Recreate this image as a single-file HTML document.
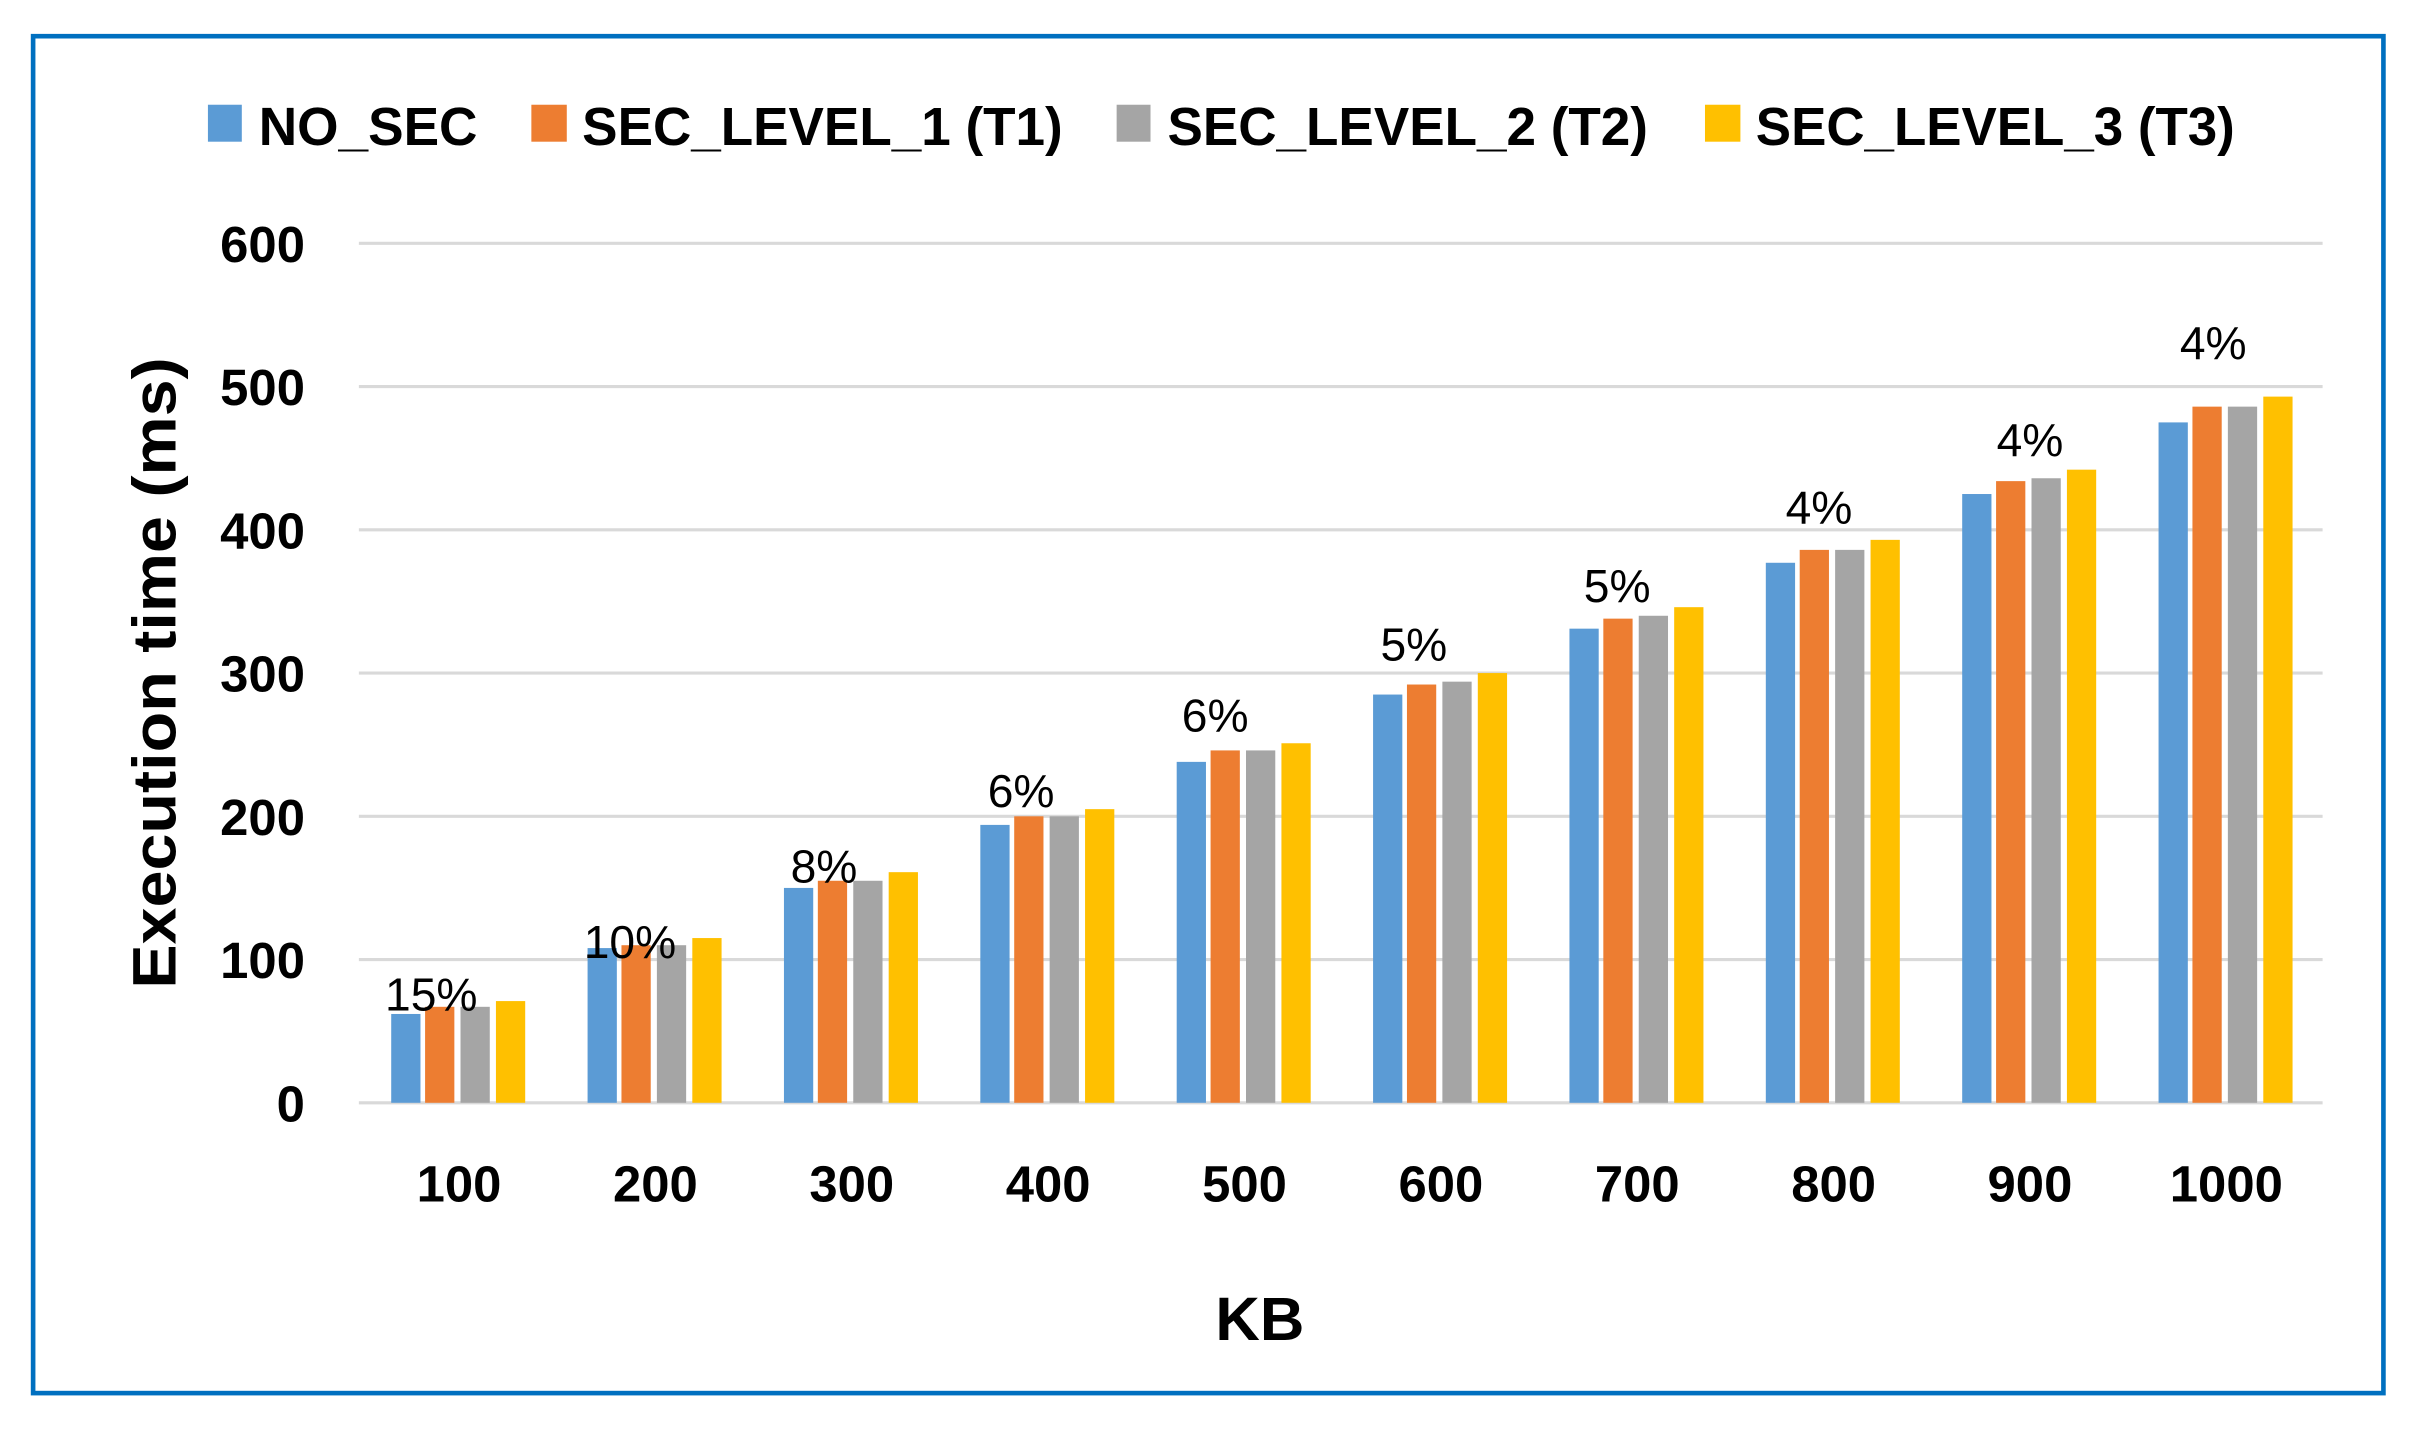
<!DOCTYPE html>
<html><head><meta charset="utf-8"><style>
html,body{margin:0;padding:0;background:#fff;}
svg{display:block;}
</style></head><body>
<svg width="2415" height="1433" viewBox="0 0 1568 930.4" preserveAspectRatio="none" xmlns="http://www.w3.org/2000/svg" font-family="'Liberation Sans', sans-serif">
<rect x="0" y="0" width="1568" height="931" fill="#fff"/>
<rect x="21.5" y="23.5" width="1526" height="881" fill="none" stroke="#0070C0" stroke-width="3"/>
<g font-weight="bold" font-size="35">
<rect x="135" y="68" width="22" height="24" fill="#5B9BD5"/>
<text x="168" y="94" textLength="142" lengthAdjust="spacingAndGlyphs">NO_SEC</text>
<rect x="345" y="68" width="23" height="24" fill="#ED7D31"/>
<text x="378" y="94" textLength="312" lengthAdjust="spacingAndGlyphs">SEC_LEVEL_1 (T1)</text>
<rect x="725" y="68" width="22" height="24" fill="#A5A5A5"/>
<text x="758" y="94" textLength="312" lengthAdjust="spacingAndGlyphs">SEC_LEVEL_2 (T2)</text>
<rect x="1107" y="68" width="23" height="24" fill="#FFC000"/>
<text x="1140" y="94" textLength="311" lengthAdjust="spacingAndGlyphs">SEC_LEVEL_3 (T3)</text>
</g>
<g stroke="#D9D9D9" stroke-width="2">
<line x1="233" x2="1508" y1="158" y2="158"/>
<line x1="233" x2="1508" y1="251" y2="251"/>
<line x1="233" x2="1508" y1="344" y2="344"/>
<line x1="233" x2="1508" y1="437" y2="437"/>
<line x1="233" x2="1508" y1="530" y2="530"/>
<line x1="233" x2="1508" y1="623" y2="623"/>
<line x1="233" x2="1508" y1="716" y2="716"/>
</g>
<g font-weight="bold" font-size="33" text-anchor="end">
<text x="198" y="170">600</text>
<text x="198" y="263">500</text>
<text x="198" y="356">400</text>
<text x="198" y="449">300</text>
<text x="198" y="542">200</text>
<text x="198" y="635">100</text>
<text x="198" y="728">0</text>
</g>
<text transform="translate(114,437) rotate(-90)" text-anchor="middle" font-weight="bold" font-size="40" textLength="410" lengthAdjust="spacingAndGlyphs">Execution time (ms)</text>
<text x="818" y="870" text-anchor="middle" font-weight="bold" font-size="40">KB</text>
<g id="bars"></g>
<g font-weight="bold" font-size="33" text-anchor="middle" id="xt"></g>
<g font-size="30" text-anchor="middle" id="pl"></g>
<script>
var d=[[62,67,67,71],[108,110,110,115],[150,155,155,161],[194,200,200,205],[238,246,246,251],[285,292,294,300],[331,338,340,346],[377,386,386,393],[425,434,436,442],[475,486,486,493]];
var col=["#5B9BD5","#ED7D31","#A5A5A5","#FFC000"],off=[-44,-22,1,24];
var pl=[["15%",280,645],["10%",409,611],["8%",535,562],["6%",663,513],["6%",789,464],["5%",918,418],["5%",1050,380],["4%",1181,329],["4%",1318,285],["4%",1437,222]];
var ns="http://www.w3.org/2000/svg",b=document.getElementById("bars"),xt=document.getElementById("xt"),p=document.getElementById("pl");
for(var i=0;i<10;i++){var c=298+127.5*i;
for(var j=0;j<4;j++){var r=document.createElementNS(ns,"rect"),h=d[i][j]*0.93;
r.setAttribute("x",c+off[j]);r.setAttribute("y",716-h);r.setAttribute("width",19);r.setAttribute("height",h);r.setAttribute("fill",col[j]);b.appendChild(r);}
var t=document.createElementNS(ns,"text");t.setAttribute("x",c);t.setAttribute("y",780);t.textContent=String((i+1)*100);xt.appendChild(t);
var q=document.createElementNS(ns,"text");q.setAttribute("x",pl[i][1]);q.setAttribute("y",pl[i][2]+11);q.textContent=pl[i][0];p.appendChild(q);}
</script>
</svg>
</body></html>
